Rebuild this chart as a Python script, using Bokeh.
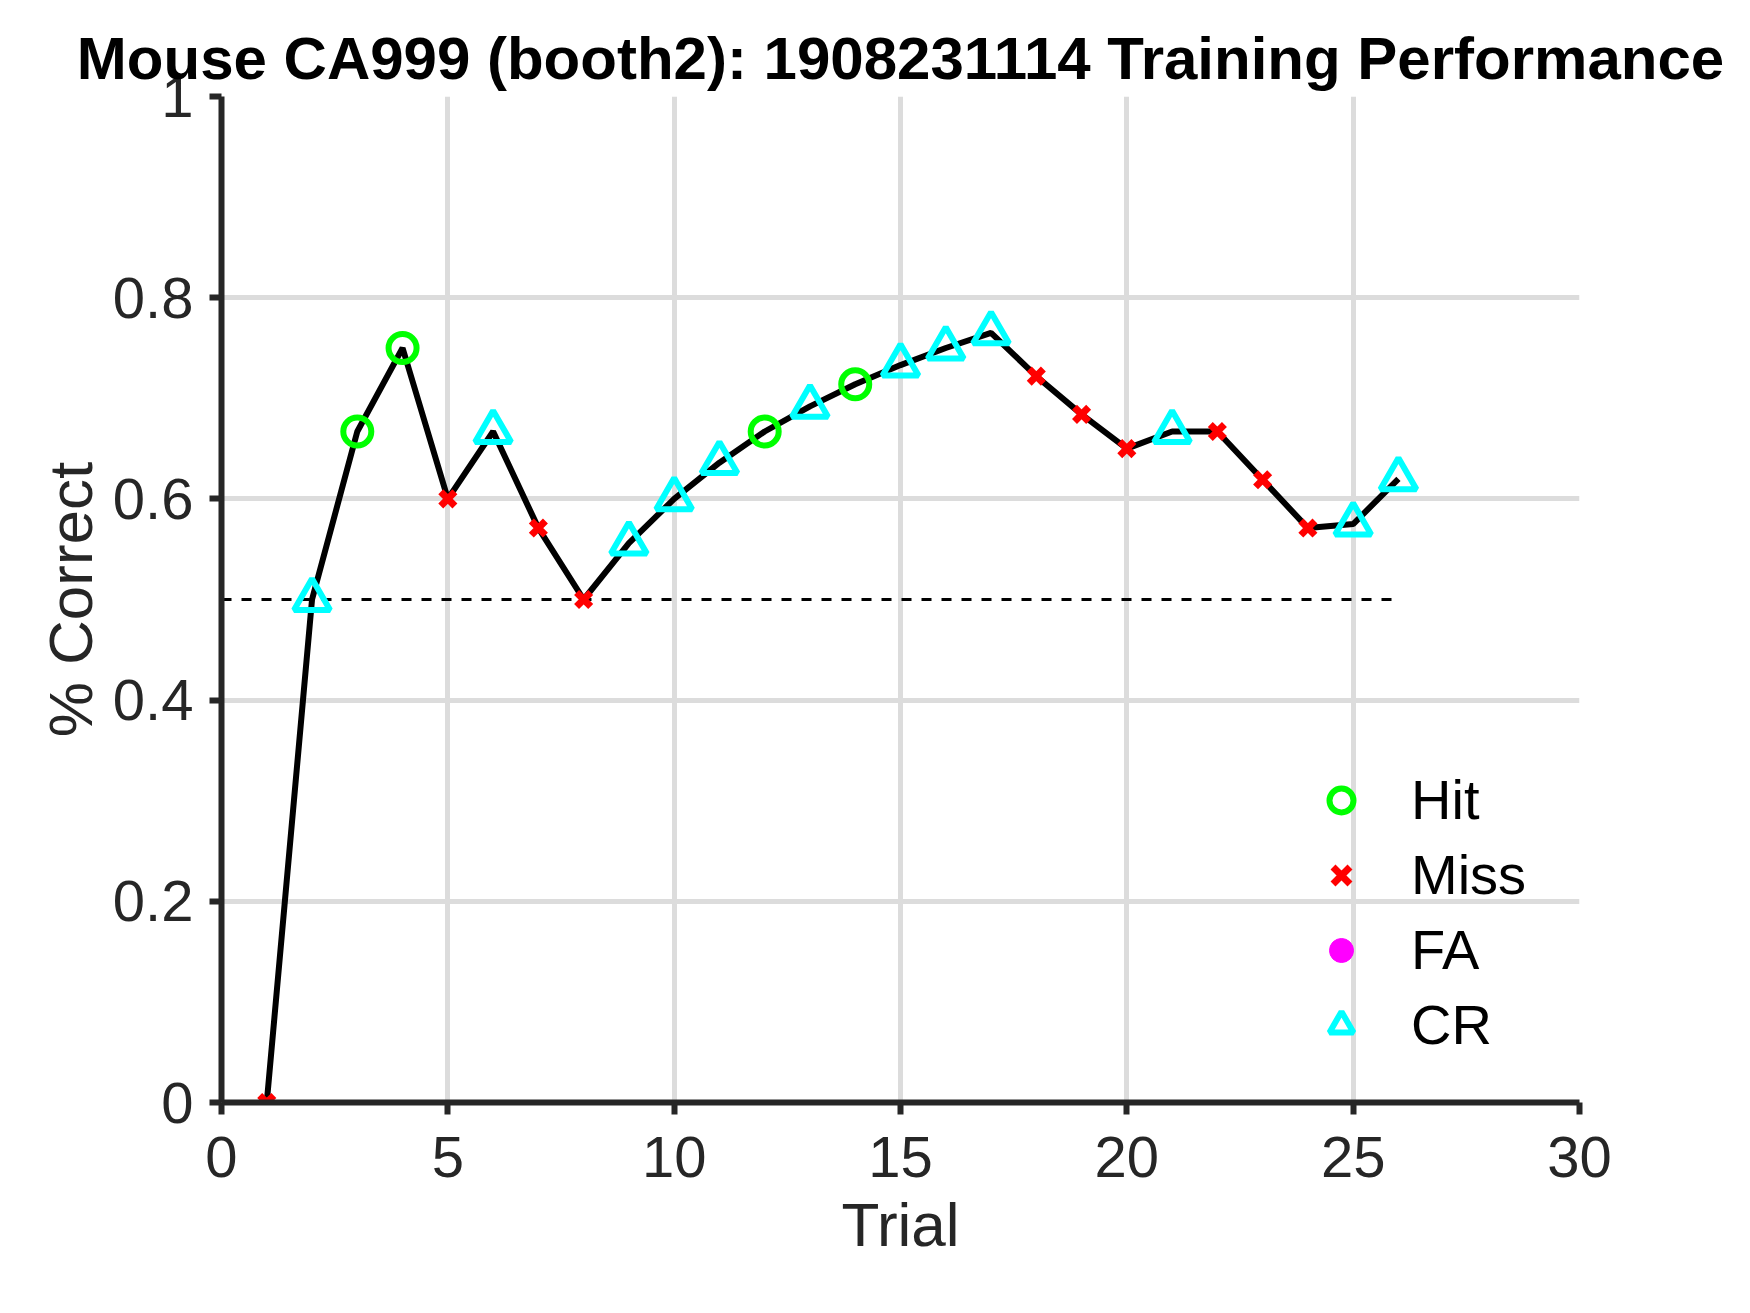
from bokeh.plotting import figure
from bokeh.models import Legend, LegendItem, FixedTicker, ColumnDataSource
from bokeh.embed import file_html
from bokeh.resources import INLINE

trials = list(range(1, 27))
perf = [0.0, 0.5, 0.667, 0.75, 0.6, 0.667, 0.571, 0.5, 0.556, 0.6, 0.636, 0.667, 0.692,
        0.714, 0.733, 0.75, 0.765, 0.722, 0.684, 0.65, 0.667, 0.667, 0.619, 0.571, 0.575, 0.62]
outcome = ["Miss", "CR", "Hit", "Hit", "Miss", "CR", "Miss", "Miss", "CR", "CR", "CR", "Hit", "CR",
           "Hit", "CR", "CR", "CR", "Miss", "Miss", "Miss", "CR", "Miss", "Miss", "Miss", "CR", "CR"]
chance = 0.5

FONT = "Liberation Sans"

p = figure(width=1734, height=1297, x_range=(0, 30), y_range=(0, 1),
           output_backend="svg", toolbar_location=None,
           title="Mouse CA999 (booth2): 1908231114 Training Performance",
           x_axis_label="Trial", y_axis_label="% Correct",
           min_border_left=221, min_border_right=155, min_border_top=96, min_border_bottom=195)
p.outline_line_color = None
p.title.text_font = FONT
p.title.text_font_size = "60px"
p.title.text_font_style = "bold"
p.title.text_color = "black"
p.title.align = "center"
p.title.offset = 0

for ax in (p.xaxis, p.yaxis):
    ax.axis_line_width = 6
    ax.axis_line_color = "#262626"
    ax.major_tick_line_width = 6
    ax.major_tick_line_color = "#262626"
    ax.major_tick_out = 12
    ax.major_tick_in = 0
    ax.minor_tick_line_color = None
    ax.major_label_text_font = FONT
    ax.major_label_text_font_size = "58px"
    ax.major_label_text_color = "#262626"
    ax.axis_label_text_font = FONT
    ax.axis_label_text_font_size = "62px"
    ax.axis_label_text_font_style = "normal"
    ax.axis_label_text_color = "#262626"
p.xaxis.ticker = FixedTicker(ticks=[0, 5, 10, 15, 20, 25, 30])
p.yaxis.ticker = FixedTicker(ticks=[0, 0.2, 0.4, 0.6, 0.8, 1])
p.yaxis.major_label_overrides = {0: "0", 1: "1"}
p.xaxis.major_label_standoff = 22
p.yaxis.major_label_standoff = 16
p.xaxis.axis_label_standoff = 10
p.grid.grid_line_color = "#dcdcdc"
p.grid.grid_line_width = 5

p.line([0, 26], [chance, chance], line_color="black", line_width=3, line_dash="10 10")
p.line(trials, perf, line_color="black", line_width=6)

def subset(name):
    idx = [i for i, o in enumerate(outcome) if o == name]
    xs = [trials[i] for i in idx] or [float("nan")]
    ys = [perf[i] for i in idx] or [float("nan")]
    return ColumnDataSource(dict(x=xs, y=ys))

r_hit = p.scatter("x", "y", source=subset("Hit"), marker="circle", size=28,
                  fill_color=None, line_color="#00ff00", line_width=6)
r_miss = p.scatter("x", "y", source=subset("Miss"), marker="x", size=20,
                   line_color="#ff0000", line_width=7)
r_fa = p.scatter("x", "y", source=subset("FA"), marker="circle", size=24,
                 fill_color="#ff00ff", line_color="#ff00ff")
r_cr = p.scatter("x", "y", source=subset("CR"), marker="triangle", size=36,
                 fill_color=None, line_color="#00ffff", line_width=6)

legend = Legend(items=[LegendItem(label="Hit", renderers=[r_hit]),
                       LegendItem(label="Miss", renderers=[r_miss]),
                       LegendItem(label="FA", renderers=[r_fa]),
                       LegendItem(label="CR", renderers=[r_cr])],
                location=(1090, 45), background_fill_alpha=0, border_line_color=None,
                label_text_font=FONT, label_text_font_size="56px", label_text_color="black",
                spacing=10, glyph_width=60, glyph_height=64, label_standoff=40)
p.add_layout(legend)

open("out.html", "w").write(file_html(p, INLINE))
